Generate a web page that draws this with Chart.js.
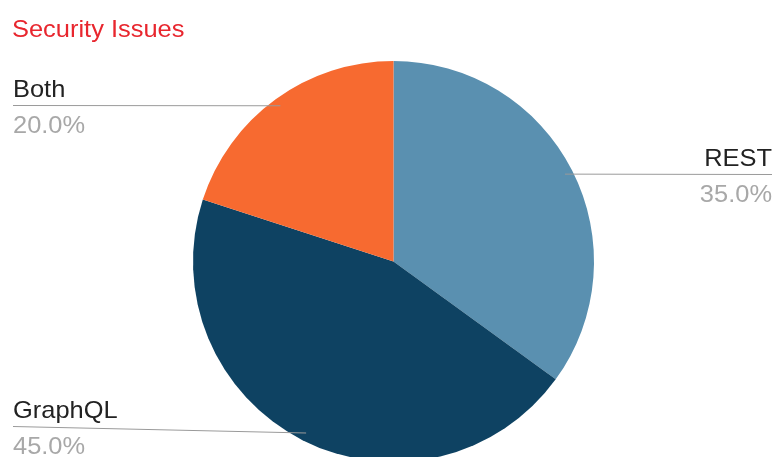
<!DOCTYPE html>
<html>
<head>
<meta charset="utf-8">
<script src="https://cdn.jsdelivr.net/npm/chart.js@4"></script>
<style>
  html, body { margin: 0; padding: 0; background: #fff; overflow: hidden; }
  #wrap { width: 777px; height: 528px; position: relative; }
</style>
</head>
<body>
<div id="wrap"><canvas id="pieChart" width="777" height="528"></canvas></div>
<script>
const categories = ['REST', 'GraphQL', 'Both'];
const shares = [35, 45, 20];
const sliceColors = ['#5a90b0', '#0e4262', '#f76a30'];

// where each label block sits (text x, alignment, line y)
const labelSpots = {
    'REST':    { x: 772, align: 'right', lineY: 174 },
    'GraphQL': { x: 13,  align: 'left',  lineY: 426 },
    'Both':    { x: 13,  align: 'left',  lineY: 105 }
};

const stretch = 1.06;

function stretchedText(ctx, text, x, y, align) {
    ctx.save();
    ctx.translate(x, y);
    ctx.scale(stretch, 1);
    ctx.textAlign = align;
    ctx.fillText(text, 0, 0);
    ctx.restore();
}

const labelPlugin = {
    id: 'pieLabels',
    afterDraw(chart) {
        const ctx = chart.ctx;
        const meta = chart.getDatasetMeta(0);
        const total = shares.reduce((a, b) => a + b, 0);

        ctx.save();
        ctx.font = '24px "Liberation Sans", Arial, sans-serif';
        ctx.textBaseline = 'alphabetic';
        ctx.fillStyle = '#e8262e';
        stretchedText(ctx, 'Security Issues', 12, 37, 'left');

        meta.data.forEach(function(arc, i) {
            const name = categories[i];
            const spot = labelSpots[name];
            const mid = (arc.startAngle + arc.endAngle) / 2;
            const r = arc.outerRadius * 0.96;
            const ax = arc.x + Math.cos(mid) * r;
            const ay = arc.y + Math.sin(mid) * r;

            ctx.strokeStyle = '#9a9a9a';
            ctx.lineWidth = 1;
            ctx.beginPath();
            ctx.moveTo(spot.x, spot.lineY + 0.5);
            ctx.lineTo(ax, ay);
            ctx.stroke();

            ctx.fillStyle = '#222222';
            stretchedText(ctx, name, spot.x, spot.lineY - 8, spot.align);
            ctx.fillStyle = '#a8a8a8';
            stretchedText(ctx, (shares[i] / total * 100).toFixed(1) + '%', spot.x, spot.lineY + 28, spot.align);
        });
        ctx.restore();
    }
};

const ctx = document.getElementById('pieChart').getContext('2d');
window.pieChart = new Chart(ctx, {
    type: 'pie',
    data: {
        labels: categories,
        datasets: [{
            data: shares,
            backgroundColor: sliceColors,
            borderWidth: 0
        }]
    },
    options: {
        responsive: false,
        animation: false,
        layout: {
            padding: { top: 61, bottom: 66, left: 193, right: 183 }
        },
        plugins: {
            legend: { display: false },
            tooltip: { enabled: false }
        }
    },
    plugins: [labelPlugin]
});
</script>
</body>
</html>
